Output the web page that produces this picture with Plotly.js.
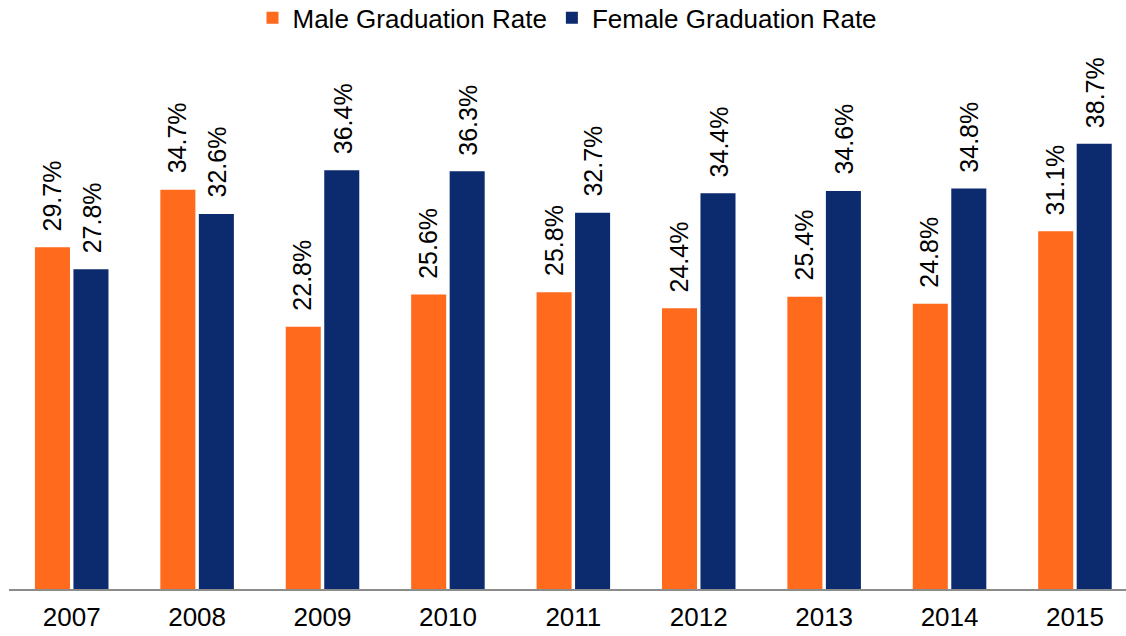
<!DOCTYPE html>
<html><head><meta charset="utf-8">
<script src="https://cdn.plot.ly/plotly-3.0.1.min.js"></script>
<style>html,body{margin:0;padding:0;background:#fff}#chart{width:1126px;height:636px}</style>
</head><body><div id="chart"></div>
<script>
const years = ['2007','2008','2009','2010','2011','2012','2013','2014','2015'];
const maleRate = [29.7, 34.7, 22.8, 25.6, 25.8, 24.4, 25.4, 24.8, 31.1];
const femaleRate = [27.8, 32.6, 36.4, 36.3, 32.7, 34.4, 34.6, 34.8, 38.7];
const maleColor = '#FF6A1C';
const femaleColor = '#0C2A6E';
const FONT = 'Liberation Sans, Arial, sans-serif';

const traces = [
  {type:'bar', name:'Male Graduation Rate', x:years, y:maleRate, marker:{color:maleColor}, hoverinfo:'skip'},
  {type:'bar', name:'Female Graduation Rate', x:years, y:femaleRate, marker:{color:femaleColor}, hoverinfo:'skip'}
];
const annotations = [];
years.forEach((yr,i)=>{
  annotations.push({x:i, y:maleRate[i], xref:'x', yref:'y', text:maleRate[i].toFixed(1)+'%', textangle:-90, showarrow:false, xshift:-20, yanchor:'bottom', yshift:14, font:{family:FONT,size:25,color:'#000'}});
  annotations.push({x:i, y:femaleRate[i], xref:'x', yref:'y', text:femaleRate[i].toFixed(1)+'%', textangle:-90, showarrow:false, xshift:20, yanchor:'bottom', yshift:14, font:{family:FONT,size:25,color:'#000'}});
});
const layout = {
  width:1126, height:636,
  margin:{l:9, r:0, t:40, b:47},
  paper_bgcolor:'#fff', plot_bgcolor:'#fff',
  barmode:'group', bargap:0.386, bargroupgap:0.09,
  font:{family:FONT, size:26, color:'#000'},
  xaxis:{type:'category', range:[-0.5, 8.407], showline:true, linecolor:'#8c8c8c', linewidth:2, ticks:'', ticklabelstandoff:4, showgrid:false, zeroline:false, tickfont:{family:FONT,size:26,color:'#000'}, fixedrange:true, automargin:false},
  yaxis:{range:[0, 47.6], visible:false, showgrid:false, zeroline:false, fixedrange:true, automargin:false},
  showlegend:true,
  legend:{orientation:'h', x:0.5, xanchor:'center', yref:'container', y:0.972, yanchor:'middle', font:{family:FONT,size:26,color:'#000'}, itemwidth:30, tracegroupgap:0},
  annotations:annotations
};
Plotly.newPlot('chart', traces, layout, {displayModeBar:false, staticPlot:true});
</script></body></html>
